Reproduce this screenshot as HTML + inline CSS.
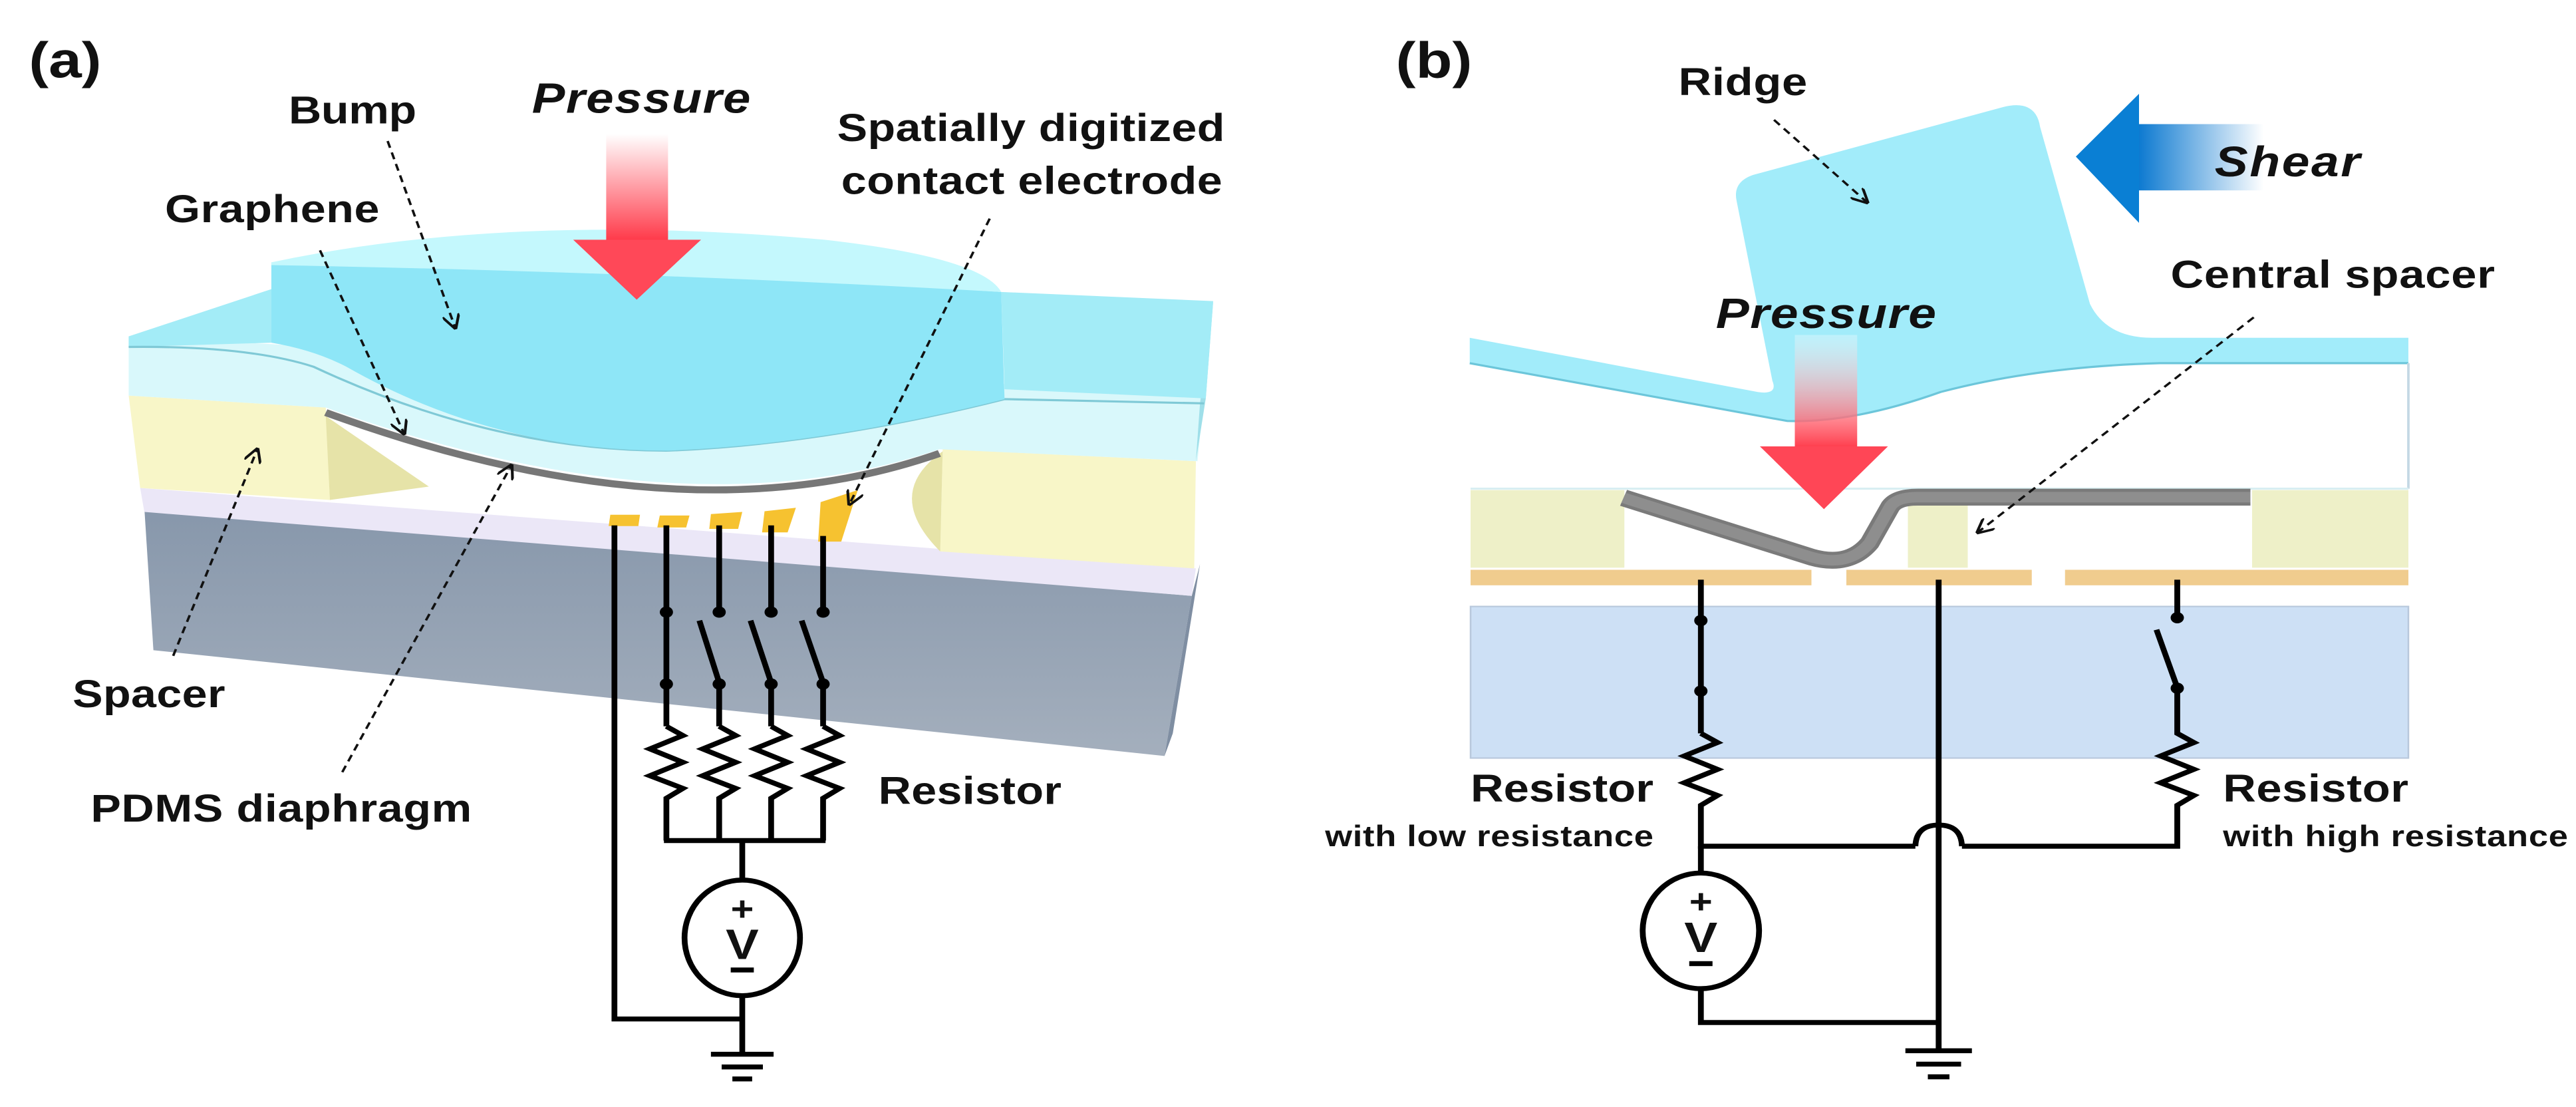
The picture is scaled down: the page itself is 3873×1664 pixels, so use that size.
<!DOCTYPE html>
<html><head><meta charset="utf-8"><style>
html,body{margin:0;padding:0;background:#fff;overflow:hidden}
svg{display:block}
text{font-family:"Liberation Sans",Arial,sans-serif;font-weight:bold;fill:#111}
</style></head><body>
<svg width="3873" height="1664" viewBox="0 0 3873 1664" xmlns="http://www.w3.org/2000/svg">
<defs>
<linearGradient id="pr" x1="0" y1="0" x2="0" y2="1"><stop offset="0" stop-color="#fff"/><stop offset="1" stop-color="#ff3848"/></linearGradient>
<linearGradient id="pr2" x1="0" y1="0" x2="0" y2="1"><stop offset="0" stop-color="#fff" stop-opacity="0.3"/><stop offset="1" stop-color="#ff3848"/></linearGradient>
<linearGradient id="sh" x1="0" y1="0" x2="1" y2="0"><stop offset="0" stop-color="#0a78d0"/><stop offset="1" stop-color="#fff"/></linearGradient>
<linearGradient id="gray" x1="0" y1="0" x2="0" y2="1"><stop offset="0" stop-color="#8797ab"/><stop offset="1" stop-color="#a4afbd"/></linearGradient>
<marker id="ah" viewBox="0 0 10 10" refX="9" refY="5" markerWidth="7" markerHeight="7" orient="auto"><path d="M0,0 L10,5 L0,10" fill="none" stroke="#111" stroke-width="1.6"/></marker>
</defs>

<!-- LEFT PANEL -->
<g transform="scale(1.24,1.06)">
<text x="35" y="110" font-size="72">(a)</text>
<polygon points="175,720 1445,845 1412,1072 186,922" fill="url(#gray)"/>
<polygon points="1445,845 1455,800 1422,1040 1412,1072" fill="#7f8ea2"/>
<polygon points="170,692 1450,806 1445,845 175,726" fill="#ebe7f7"/>
<polygon points="156,561 395,578 400,709 170,692" fill="#f8f6c8"/>
<polygon points="395,590 400,709 520,690" fill="#e6e3a8"/>
<polygon points="1143,637 1450,654 1448,806 1140,782" fill="#f8f6c8"/>
<path d="M1143,640 Q1070,700 1140,782 Z" fill="#e6e3a8"/>
<!-- PDMS layer -->
<path d="M156,477 L1460,560 L1452,654 L1139,637 Q829,760 395,578 L156,561 Z" fill="#d9f8fb"/>
<path d="M1471,427 L1462,565 L1450,654 L1455,572 Z" fill="#9fdfe9"/>
<path d="M395,585 Q829,770 1139,643" fill="none" stroke="#777" stroke-width="10"/>
<!-- slab top faces -->
<polygon points="156,477 329,410 329,486 156,492" fill="#a3ecf7"/>
<polygon points="1214,414 1471,427 1462,565 1218,552" fill="#a3ecf7"/>
<path d="M156,492 Q300,490 380,520 Q600,640 811,639 Q1000,630 1218,566 L1460,572" fill="none" stroke="#7fc9d6" stroke-width="3"/>
<!-- bump -->
<path d="M329,372 Q770,380 1214,414 L1218,566 Q1000,630 811,639 Q600,640 420,520 Q380,496 329,486 Z" fill="#8ee6f7"/>
<path d="M329,372 Q620,300 1000,340 Q1190,365 1214,414 Q770,385 329,376 Z" fill="#c4f8fd"/>
<g fill="#f6c230">
<polygon points="740,730 776,730 774,746 738,746"/>
<polygon points="800,731 836,731 832,748 797,748"/>
<polygon points="862,729 900,726 895,750 860,750"/>
<polygon points="927,725 965,720 955,755 924,755"/>
<polygon points="995,712 1040,695 1020,768 992,768"/>
</g>
<rect x="735" y="190" width="75" height="152" fill="url(#pr)"/>
<polygon points="695,340 850,340 772,425" fill="#ff4858"/>
<text x="645" y="160" font-size="60" font-style="italic" textLength="265">Pressure</text>
<text x="350" y="175" font-size="55" textLength="155">Bump</text>
<text x="200" y="315" font-size="55" textLength="260">Graphene</text>
<text x="1015" y="200" font-size="55" textLength="470">Spatially digitized</text>
<text x="1020" y="275" font-size="55" textLength="462">contact electrode</text>
<text x="88" y="1003" font-size="55" textLength="185">Spacer</text>
<text x="110" y="1165" font-size="55" textLength="462">PDMS diaphragm</text>
<text x="1065" y="1140" font-size="55" textLength="222">Resistor</text>
<g stroke="#111" stroke-width="3" stroke-dasharray="10,7" fill="none" marker-end="url(#ah)">
<line x1="470" y1="200" x2="552" y2="465"/>
<line x1="388" y1="355" x2="490" y2="615"/>
<line x1="210" y1="930" x2="312" y2="637"/>
<line x1="415" y1="1095" x2="620" y2="660"/>
<line x1="1200" y1="310" x2="1030" y2="715"/>
</g>
<g stroke="#000" stroke-width="7" fill="none">
<polyline points="745,745 745,1445 900,1445"/>
<line x1="808" y1="745" x2="808" y2="1030"/>
<line x1="872" y1="745" x2="872" y2="865"/>
<line x1="935" y1="745" x2="935" y2="865"/>
<line x1="998" y1="760" x2="998" y2="865"/>
<line x1="848" y1="880" x2="872" y2="968"/>
<line x1="910" y1="880" x2="935" y2="968"/>
<line x1="972" y1="880" x2="998" y2="968"/>
<line x1="872" y1="968" x2="872" y2="1030"/>
<line x1="935" y1="968" x2="935" y2="1030"/>
<line x1="998" y1="968" x2="998" y2="1030"/>
<polyline points="808,1030 828,1043 788,1062 828,1081 788,1100 828,1118 808,1132 808,1192"/>
<polyline points="872,1030 892,1043 852,1062 892,1081 852,1100 892,1118 872,1132 872,1192"/>
<polyline points="935,1030 955,1043 915,1062 955,1081 915,1100 955,1118 935,1132 935,1192"/>
<polyline points="998,1030 1018,1043 978,1062 1018,1081 978,1100 1018,1118 998,1132 998,1192"/>
<line x1="805" y1="1192" x2="1001" y2="1192"/>
<line x1="900" y1="1192" x2="900" y2="1250"/>
<ellipse cx="900" cy="1330" rx="70" ry="82"/>
<line x1="900" y1="1412" x2="900" y2="1495"/>
<line x1="862" y1="1495" x2="938" y2="1495"/>
<line x1="875" y1="1513" x2="925" y2="1513"/>
<line x1="888" y1="1530" x2="912" y2="1530"/>
</g>
<g fill="#000">
<circle cx="808" cy="868" r="8"/><circle cx="872" cy="868" r="8"/><circle cx="935" cy="868" r="8"/><circle cx="998" cy="868" r="8"/>
<circle cx="808" cy="970" r="8"/><circle cx="872" cy="970" r="8"/><circle cx="935" cy="970" r="8"/><circle cx="998" cy="970" r="8"/>
</g>
<text x="900" y="1305" font-size="48" text-anchor="middle">+</text>
<text x="900" y="1360" font-size="60" text-anchor="middle" font-weight="normal">V</text>
<rect x="886" y="1372" width="28" height="7" fill="#000"/>
</g>

<!-- RIGHT PANEL -->
<g transform="translate(1936,0) scale(1.25,1.06)">
<text x="130" y="110" font-size="72">(b)</text>
<path d="M219,479 L566,556 Q590,560 583,540 L540,285 Q535,258 560,248 L860,152 Q900,140 905,180 L965,431 Q985,479 1040,479 L1348,479 L1348,515 L1049,515 Q900,520 785,556 Q680,600 601,597 L219,515 Z" fill="#a2ecfa"/>
<path d="M219,515 L601,597 Q680,600 785,556 Q900,520 1049,515 L1348,515" fill="none" stroke="#6cc6da" stroke-width="3"/>
<line x1="1348" y1="515" x2="1348" y2="693" stroke="#c4d8e4" stroke-width="3"/>
<line x1="220" y1="693" x2="1348" y2="693" stroke="#d8eef2" stroke-width="3"/>
<rect x="220" y="695" width="185" height="110" fill="#eef0c8"/>
<rect x="1160" y="695" width="188" height="110" fill="#eef0c8"/>
<rect x="746" y="717" width="72" height="88" fill="#eef0c8"/>
<path d="M404,706 L630,790 Q675,805 700,770 L725,718 Q733,705 758,705 L1158,705" fill="none" stroke="#7a7a7a" stroke-width="24"/>
<path d="M404,706 L630,790 Q675,805 700,770 L725,718 Q733,705 758,705 L1158,705" fill="none" stroke="#8e8e8e" stroke-width="15"/>
<g fill="#f0cc8e">
<rect x="220" y="808" width="410" height="22"/>
<rect x="672" y="808" width="223" height="22"/>
<rect x="935" y="808" width="413" height="22"/>
</g>
<rect x="220" y="860" width="1128" height="215" fill="#cde0f5" stroke="#b8c8dc" stroke-width="2"/>
<rect x="610" y="475" width="75" height="162" fill="url(#pr2)"/>
<polygon points="568,633 722,633 645,722" fill="#ff4656"/>
<text x="515" y="465" font-size="60" font-style="italic" textLength="265">Pressure</text>
<rect x="1022" y="176" width="152" height="94" fill="url(#sh)"/>
<polygon points="948,222 1024,133 1024,316" fill="#0a7fd4"/>
<text x="1115" y="250" font-size="60" font-style="italic" textLength="175">Shear</text>
<text x="470" y="135" font-size="55" textLength="155">Ridge</text>
<text x="1062" y="408" font-size="55" textLength="390">Central spacer</text>
<g stroke="#111" stroke-width="3" stroke-dasharray="10,7" fill="none" marker-end="url(#ah)">
<line x1="585" y1="170" x2="697" y2="287"/>
<line x1="1162" y1="450" x2="830" y2="755"/>
</g>
<g stroke="#000" stroke-width="7" fill="none">
<line x1="497" y1="822" x2="497" y2="1040"/>
<polyline points="497,1040 517,1053 477,1072 517,1091 477,1110 517,1128 497,1142 497,1200 755,1200"/>
<path d="M755,1200 Q756,1170 783,1170 Q810,1170 811,1200"/>
<polyline points="811,1200 1070,1200 1070,1142 1090,1128 1050,1110 1090,1091 1050,1072 1090,1053 1070,1040 1070,975"/>
<line x1="1045" y1="893" x2="1070" y2="975"/>
<line x1="1070" y1="822" x2="1070" y2="875"/>
<line x1="783" y1="822" x2="783" y2="1490"/>
<polyline points="497,1200 497,1238"/>
<ellipse cx="497" cy="1320" rx="70" ry="82"/>
<polyline points="497,1402 497,1450 783,1450"/>
<line x1="743" y1="1490" x2="823" y2="1490"/>
<line x1="756" y1="1509" x2="810" y2="1509"/>
<line x1="770" y1="1527" x2="796" y2="1527"/>
</g>
<g fill="#000"><circle cx="497" cy="880" r="8"/><circle cx="497" cy="980" r="8"/><circle cx="1070" cy="876" r="8"/><circle cx="1070" cy="976" r="8"/></g>
<text x="497" y="1295" font-size="48" text-anchor="middle">+</text>
<text x="497" y="1350" font-size="60" text-anchor="middle" font-weight="normal">V</text>
<rect x="483" y="1363" width="28" height="7" fill="#000"/>
<text x="220" y="1137" font-size="55" textLength="220">Resistor</text>
<text x="45" y="1200" font-size="42" textLength="395">with low resistance</text>
<text x="1125" y="1137" font-size="55" textLength="223">Resistor</text>
<text x="1125" y="1200" font-size="42" textLength="415">with high resistance</text>
</g>
</svg>
</body></html>
